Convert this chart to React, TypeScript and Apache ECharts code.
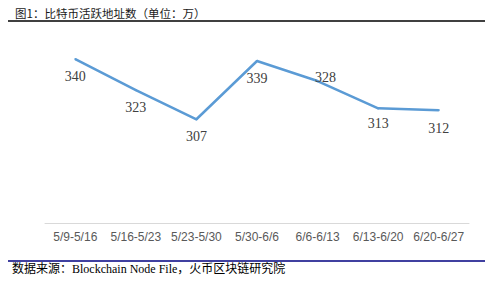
import React, { useEffect, useRef } from "react";
import * as echarts from "echarts";

const categories = ["5/9-5/16", "5/16-5/23", "5/23-5/30", "5/30-6/6", "6/6-6/13", "6/13-6/20", "6/20-6/27"];
const values = [340, 323, 307, 339, 328, 313, 312];
const titleText = "图1：比特币活跃地址数（单位：万）";
const sourceText = "数据来源：Blockchain Node File，火币区块链研究院";

export default function App() {
  const ref = useRef<HTMLDivElement>(null);
  useEffect(() => {
    if (!ref.current) return;
    const chart = echarts.init(ref.current, null, { renderer: "svg" });
    const data = values.map((v, i) => {
      if (i === 4) {
        return { value: v, label: { offset: [8, -4] } };
      }
      if (i === 5) {
        return { value: v, label: { offset: [0, 15] } };
      }
      if (i === 6) {
        return { value: v, label: { offset: [0, 18] } };
      }
      return { value: v };
    });
    chart.setOption({
      animation: false,
      backgroundColor: "#ffffff",
      grid: { left: 45, right: 27, top: 41, bottom: 60 },
      xAxis: {
        type: "category",
        data: categories,
        boundaryGap: true,
        axisLine: { show: true, lineStyle: { color: "#D9D9D9", width: 1 } },
        axisTick: { show: false },
        axisLabel: {
          color: "#595959",
          fontSize: 12,
          fontFamily: "Liberation Sans",
          margin: 8,
          interval: 0,
        },
      },
      yAxis: {
        type: "value",
        min: 250,
        max: 350,
        show: false,
        splitLine: { show: false },
      },
      series: [
        {
          type: "line",
          data,
          symbol: "circle",
          symbolSize: 2,
          itemStyle: { color: "#5B9BD5" },
          lineStyle: { color: "#5B9BD5", width: 2.5 },
          label: {
            show: true,
            position: "inside",
            offset: [0, 17],
            color: "#404040",
            fontSize: 14,
            fontFamily: "Liberation Serif",
          },
        },
      ],
      graphic: [
        {
          type: "text",
          left: 15,
          top: 7,
          style: {
            text: titleText,
            fontSize: 11.5,
            fontFamily: "Noto Sans CJK SC",
            fill: "#1a1a1a",
          },
        },
        {
          type: "line",
          shape: { x1: 8, y1: 21, x2: 485, y2: 21 },
          style: { stroke: "#000000", lineWidth: 1.5 },
        },
        {
          type: "line",
          shape: { x1: 8, y1: 261, x2: 485, y2: 261 },
          style: { stroke: "#000080", lineWidth: 1.5 },
        },
        {
          type: "text",
          left: 12,
          top: 263,
          style: {
            text: sourceText,
            fontSize: 12,
            fontFamily: "Liberation Serif, Noto Sans CJK SC",
            fill: "#000000",
          },
        },
      ],
    });
    return () => chart.dispose();
  }, []);
  return <div ref={ref} style={{ width: 496, height: 283, position: "absolute", left: 0, top: 0 }} />;
}
